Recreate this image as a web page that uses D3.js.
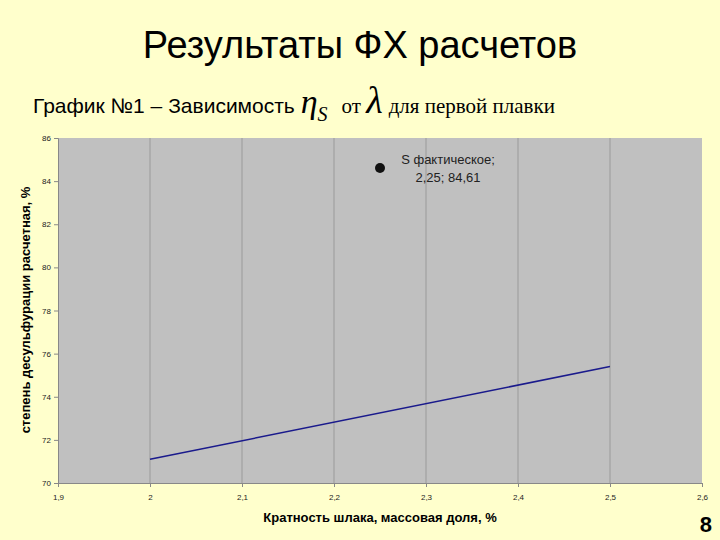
<!DOCTYPE html>
<html><head><meta charset="utf-8">
<script src="https://cdn.jsdelivr.net/npm/d3@7"></script>
<style>body{margin:0;background:#ffffcc}</style></head>
<body><svg id="c" width="720" height="540"></svg>
<script>
const xTicks=[1.9,2,2.1,2.2,2.3,2.4,2.5,2.6];
const yTicks=[70,72,74,76,78,80,82,84,86];
const lineX=[2,2.5];
const lineY=[71.1,75.4];
const pointX=[2.25];
const pointY=[84.61];
const pointLabels=["S фактическое;","2,25; 84,61"];
const fmt=d=>String(d).replace(".",",");
const svg=d3.select("#c");
svg.append("rect").attr("width",720).attr("height",540).attr("fill","#ffffcc");
const x=d3.scaleLinear().domain([1.9,2.6]).range([58,702]);
const y=d3.scaleLinear().domain([70,86]).range([483,138]);
svg.append("text").attr("x",360).attr("y",58).attr("text-anchor","middle")
 .attr("font-family","Liberation Sans").attr("font-size",38).text("Результаты ФХ расчетов");
const t=svg.append("text").attr("x",33).attr("y",113).attr("font-size",21).attr("font-family","Liberation Sans");
t.append("tspan").text("График №1 – Зависимость ");
t.append("tspan").attr("font-family","Liberation Serif").attr("font-style","italic").attr("font-size",34).text("η");
t.append("tspan").attr("font-family","Liberation Serif").attr("font-style","italic").attr("font-size",20).attr("dy",8).text("S");
t.append("tspan").attr("font-family","Liberation Serif").attr("dy",-8).attr("dx",14).text("от ");
t.append("tspan").attr("font-family","Liberation Serif").attr("font-style","italic").attr("font-size",38).text("λ");
t.append("tspan").attr("font-family","Liberation Serif").attr("dx",6).text("для первой плавки");
svg.append("rect").attr("x",x(1.9)).attr("y",y(86)).attr("width",x(2.6)-x(1.9)).attr("height",y(70)-y(86)).attr("fill","#c0c0c0");
svg.selectAll(".g").data(xTicks.slice(1,-1)).join("line").attr("x1",d=>x(d)).attr("x2",d=>x(d))
 .attr("y1",y(86)).attr("y2",y(70)).attr("stroke","#a0a0a0").attr("stroke-width",1.2);
const xa=svg.append("g").attr("transform",`translate(0,${y(70)})`)
 .call(d3.axisBottom(x).tickValues(xTicks).tickFormat(fmt).tickSize(4));
const ya=svg.append("g").attr("transform",`translate(${x(1.9)},0)`)
 .call(d3.axisLeft(y).tickValues(yTicks).tickSize(4));
[xa,ya].forEach(a=>{a.selectAll("text").attr("font-family","Liberation Sans").attr("font-size",8).attr("fill","#222");
 a.selectAll("path,line").attr("stroke","#888");});
xa.selectAll("text").attr("dy","1.3em");
svg.append("path").datum(lineX.map((d,i)=>[d,lineY[i]]))
 .attr("d",d3.line().x(d=>x(d[0])).y(d=>y(d[1]))).attr("stroke","#1a1a8c").attr("stroke-width",1.5).attr("fill","none");
svg.selectAll(".p").data(pointX).join("circle").attr("cx",d=>x(d)).attr("cy",(d,i)=>y(pointY[i]))
 .attr("r",5).attr("fill","#111");
pointLabels.forEach((s,i)=>svg.append("text").attr("x",x(pointX[0])+68).attr("y",y(pointY[0])-4+i*18)
 .attr("text-anchor","middle").attr("font-family","Liberation Sans").attr("font-size",13).attr("fill","#222").text(s));
svg.append("text").attr("x",380).attr("y",522).attr("text-anchor","middle").attr("font-family","Liberation Sans")
 .attr("font-weight","bold").attr("font-size",13).text("Кратность шлака, массовая доля, %");
svg.append("text").attr("transform","translate(30,310) rotate(-90)").attr("text-anchor","middle").attr("font-family","Liberation Sans")
 .attr("font-weight","bold").attr("font-size",13).text("степень десульфурации расчетная, %");
svg.append("text").attr("x",712).attr("y",532).attr("text-anchor","end").attr("font-family","Liberation Sans")
 .attr("font-weight","bold").attr("font-size",22).text("8");
</script></body></html>
